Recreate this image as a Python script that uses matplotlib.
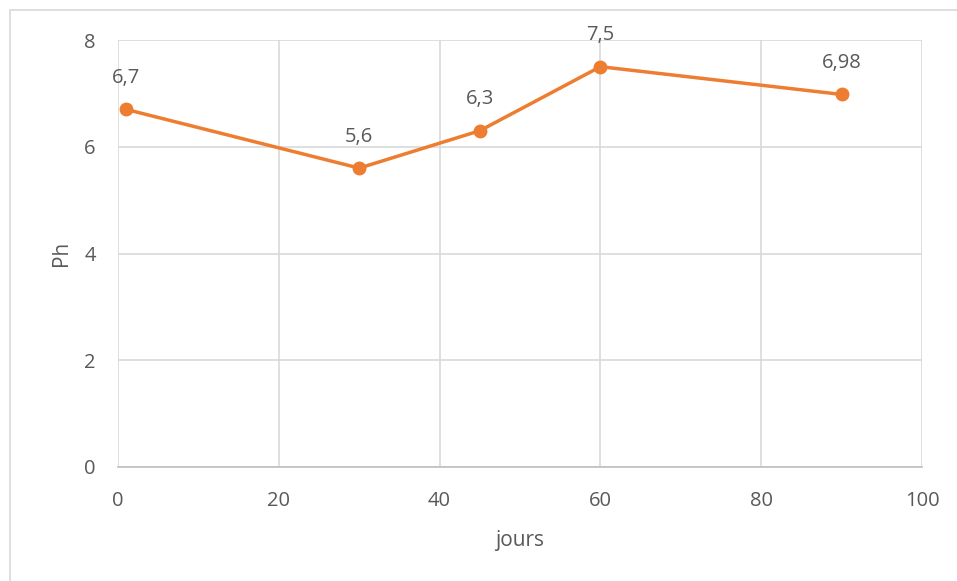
import matplotlib
matplotlib.use("Agg")
import matplotlib.pyplot as plt
from matplotlib.patches import Rectangle

# data
jours = [1, 30, 45, 60, 90]
ph = [6.7, 5.6, 6.3, 7.5, 6.98]
labels = ["6,7", "5,6", "6,3", "7,5", "6,98"]

plt.rcParams['font.family'] = ['Open Sans', 'DejaVu Sans']
text_color = '#595959'
grid_color = '#d9d9d9'
line_color = '#ed7d31'

fig = plt.figure(figsize=(9.57, 5.81), dpi=100)
ax = fig.add_axes([118 / 957, 1 - 467 / 581, (922 - 118) / 957, (467 - 40) / 581])

# outer chart border (cut off at right and bottom)
fig.patches.append(Rectangle((10 / 957, -0.1), 1.2, (571 / 581) + 0.1,
                             transform=fig.transFigure, fill=False,
                             edgecolor=grid_color, linewidth=1.2))

ax.plot(jours, ph, color=line_color, linewidth=2.5, marker='o', markersize=9, zorder=3)
for x, y, lab in zip(jours, ph, labels):
    ax.annotate(lab, (x, y), xytext=(0, 15.5), textcoords='offset points',
                ha='center', va='bottom', fontsize=14.5, color=text_color)

ax.set_xlim(0, 100)
ax.set_ylim(0, 8)
ax.set_xticks(range(0, 101, 20))
ax.set_yticks(range(0, 9, 2))
ax.grid(True, color=grid_color, linewidth=1.2)
ax.set_axisbelow(True)
for side in ['top', 'right', 'left']:
    ax.spines[side].set_visible(False)
ax.spines['bottom'].set_color('#bfbfbf')
ax.spines['bottom'].set_linewidth(1.2)
ax.tick_params(length=0, labelsize=14.5, labelcolor=text_color)
ax.tick_params(axis='x', pad=17)
ax.tick_params(axis='y', pad=16)

ax.set_xlabel('jours', fontsize=15, color=text_color, labelpad=14)
ax.set_ylabel('Ph', fontsize=15, color=text_color, labelpad=9)

fig.savefig('out.png', dpi=100)
